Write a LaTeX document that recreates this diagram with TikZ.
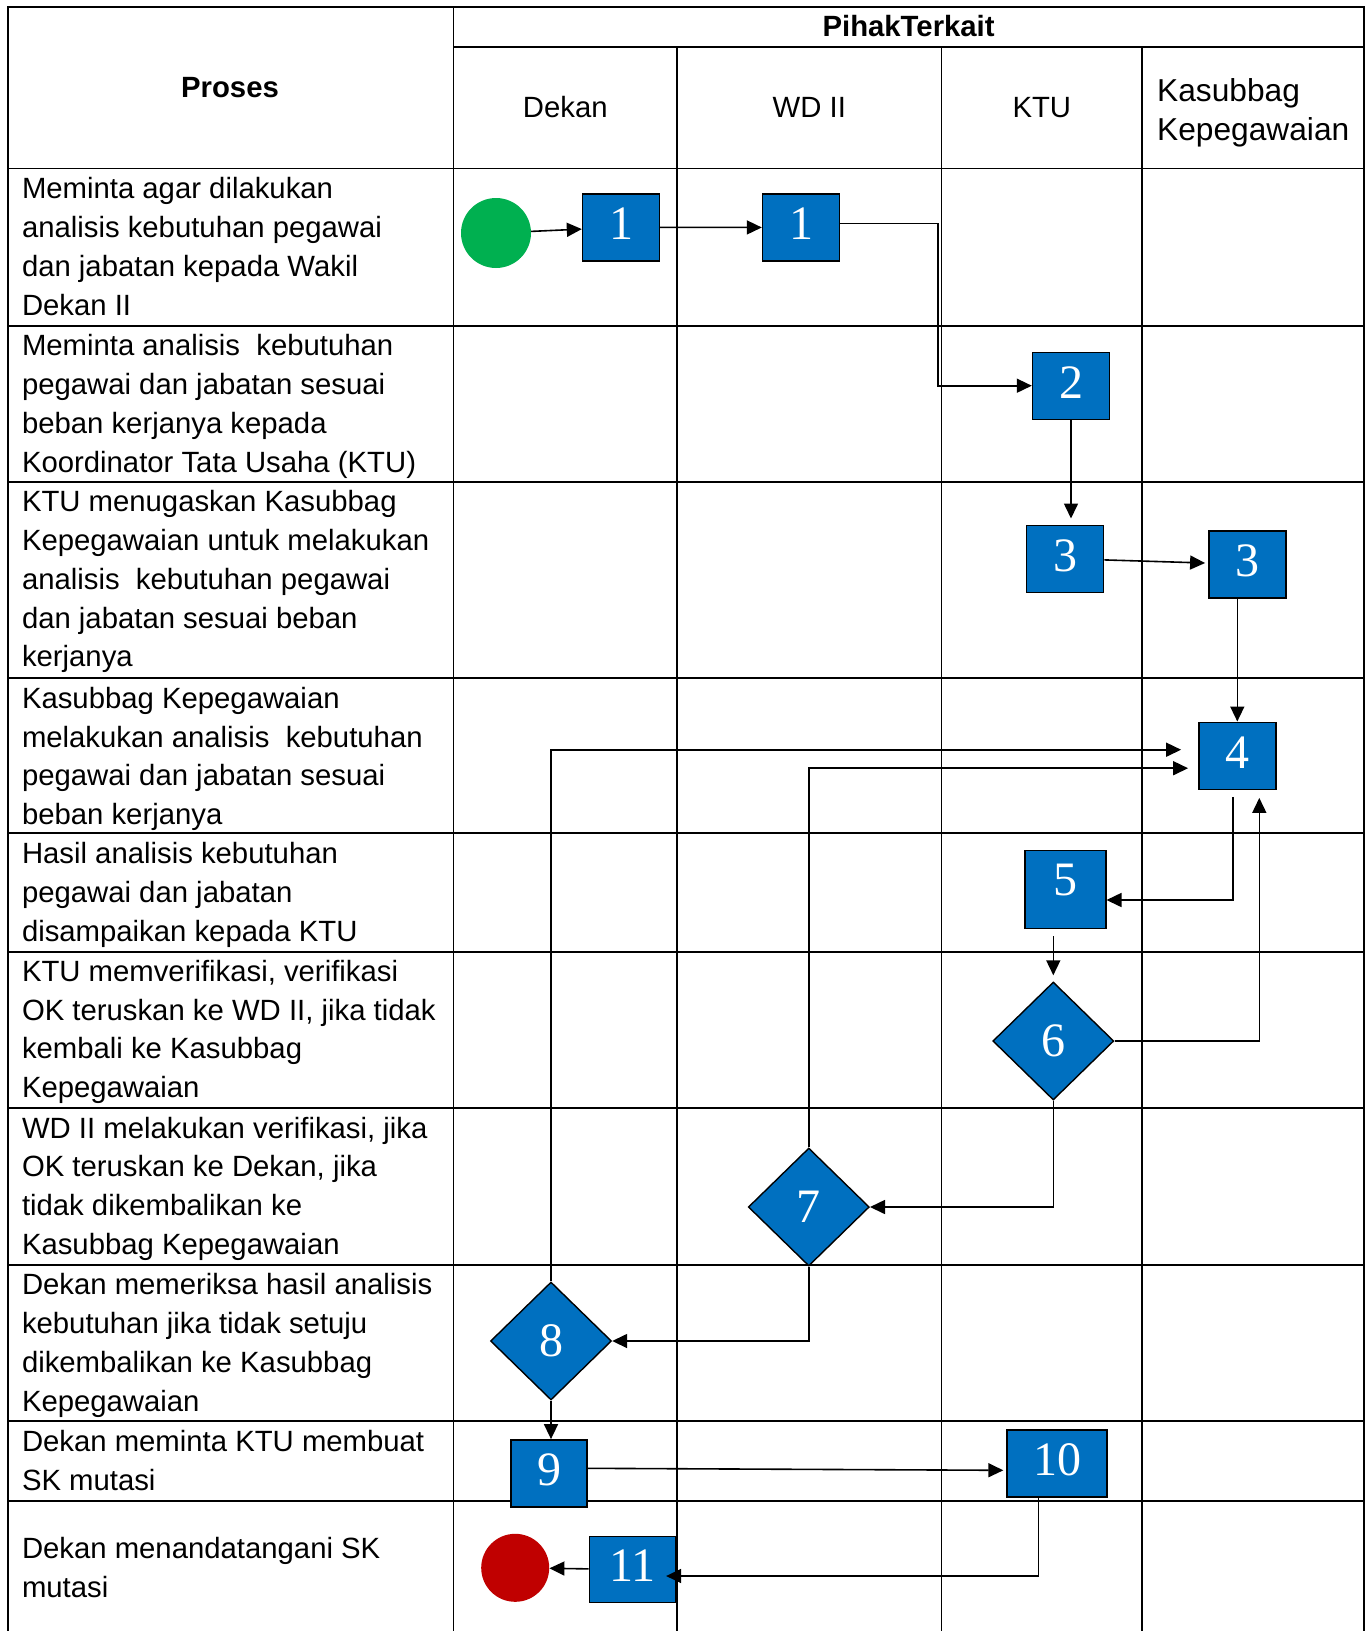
\documentclass[tikz,border=0pt]{standalone}
\usepackage{fontspec}
\setmainfont{Liberation Sans}
\newfontfamily\numfont{Liberation Serif}
\usetikzlibrary{arrows.meta,shapes.geometric,calc}
\definecolor{boxblue}{HTML}{0070C0}
\definecolor{startgreen}{HTML}{00B050}
\definecolor{endred}{HTML}{C00000}
\tikzset{
  gridline/.style={line width=1.8pt},
  proc/.style={draw=black, line width=1.4pt, fill=boxblue, text=white,
    font=\numfont\fontsize{48}{48}\selectfont, inner sep=0pt, text depth=7pt},
  dec/.style={diamond, draw=black, line width=1.4pt, fill=boxblue, text=white,
    font=\numfont\fontsize{48}{48}\selectfont, inner sep=0pt,
    minimum width=121pt, minimum height=118pt},
  arr/.style={-{Triangle[length=15pt,width=14pt]}, line width=1.6pt},
  lbl/.style={font=\fontsize{29.3}{38.8}\selectfont, align=left, anchor=north west, inner sep=0pt},
  hdr/.style={font=\fontsize{29.3}{38.8}\selectfont, anchor=base, inner sep=0pt},
  terminal/.style={circle, draw=none, inner sep=0pt},
}
\begin{document}
\begin{tikzpicture}[x=1pt,y=-1pt]
\useasboundingbox (0,0) rectangle (1371,1631);
\fill[white] (0,0) rectangle (1371,1631);
% table grid
\draw[gridline] (8.3,1631) -- (8.3,7.3) -- (1363.7,7.3) -- (1363.7,1631);
\draw[gridline] (453.5,7.3) -- (453.5,1631);
\draw[gridline] (453.5,46.8) -- (1363.7,46.8);
\foreach \x in {677.2,941.4,1142.1} \draw[gridline] (\x,46.8) -- (\x,1631);
\foreach \y in {168.5,325.6,481.6,678.2,833.2,951.8,1107.8,1264.9,1420.9,1501.0}
  \draw[gridline] (8.3,\y) -- (1363.7,\y);
% headers
\node[hdr,font=\bfseries\fontsize{29.3}{38.8}\selectfont] (hproses) at (230,97.5) {Proses};
\node[hdr,font=\bfseries\fontsize{29.3}{38.8}\selectfont] (hpihak) at (908.6,36.5) {PihakTerkait};
\node[hdr] (hdekan) at (565.3,117.5) {Dekan};
\node[hdr] (hwd) at (809.3,117.5) {WD II};
\node[hdr] (hktu) at (1041.8,117.5) {KTU};
\node[lbl, font=\fontsize{31.7}{38.5}\selectfont] (hkas) at (1157,74.5) {\strut Kasubbag\\Kepegawaian};
% process texts
\node[lbl] (p1) at (21.8,171.3) {\strut Meminta agar dilakukan\\analisis kebutuhan pegawai\\dan jabatan kepada Wakil\\Dekan II};
\node[lbl] (p2) at (21.8,328.4) {\strut Meminta analisis\ \ kebutuhan\\pegawai dan jabatan sesuai\\beban kerjanya kepada\\Koordinator Tata Usaha (KTU)};
\node[lbl] (p3) at (21.8,484.4) {\strut KTU menugaskan Kasubbag\\Kepegawaian untuk melakukan\\analisis\ \ kebutuhan pegawai\\dan jabatan sesuai beban\\kerjanya};
\node[lbl] (p4) at (21.8,681.0) {\strut Kasubbag Kepegawaian\\melakukan analisis\ \ kebutuhan\\pegawai dan jabatan sesuai\\beban kerjanya};
\node[lbl] (p5) at (21.8,836.5) {\strut Hasil analisis kebutuhan\\pegawai dan jabatan\\disampaikan kepada KTU};
\node[lbl] (p6) at (21.8,954.0) {\strut KTU memverifikasi, verifikasi\\OK teruskan ke WD II, jika tidak\\kembali ke Kasubbag\\Kepegawaian};
\node[lbl] (p7) at (21.8,1110.8) {\strut WD II melakukan verifikasi, jika\\OK teruskan ke Dekan, jika\\tidak dikembalikan ke\\Kasubbag Kepegawaian};
\node[lbl] (p8) at (21.8,1267.5) {\strut Dekan memeriksa hasil analisis\\kebutuhan jika tidak setuju\\dikembalikan ke Kasubbag\\Kepegawaian};
\node[lbl] (p9) at (21.8,1424.0) {\strut Dekan meminta KTU membuat\\SK mutasi};
\node[lbl] (p10) at (21.8,1531.3) {\strut Dekan menandatangani SK\\mutasi};
% flow nodes
\node[terminal, fill=startgreen, minimum size=70pt] (start) at (496,233) {};
\node[proc, minimum width=77pt, minimum height=67pt] (d1) at (621,227.3) {1};
\node[proc, minimum width=77pt, minimum height=67pt] (w1) at (801,227.5) {1};
\node[proc, minimum width=77pt, minimum height=67pt] (k2) at (1071,385.7) {2};
\node[proc, minimum width=77pt, minimum height=67pt] (k3) at (1065.2,558.7) {3};
\node[proc, minimum width=77pt, minimum height=67pt] (s3) at (1247.3,564.3) {3};
\node[proc, minimum width=77pt, minimum height=67pt] (s4) at (1237.3,755.7) {4};
\node[proc, minimum width=81pt, minimum height=78pt, text depth=19pt] (k5) at (1065.3,889.5) {5};
\node[dec] (k6) at (1053.3,1041) {6};
\node[dec] (w7) at (808.8,1207) {7};
\node[dec] (d8) at (551,1341) {8};
\node[proc, minimum width=76pt, minimum height=67pt] (d9) at (549,1473.3) {9};
\node[proc, minimum width=100pt, minimum height=67pt] (k10) at (1057,1463.3) {10};
\node[proc, minimum width=86pt, minimum height=66pt] (d11) at (632.4,1569.5) {11};
\node[terminal, fill=endred, minimum size=68pt] (end) at (515.2,1567.8) {};
% connectors
\draw[arr] (start) -- (d1);
\draw[arr] (d1) -- (w1);
\draw[arr] ([yshift=4pt]w1.east) -- ++(97.7,0) |- (k2.west);
\draw[arr, shorten >=6pt] (k2.south) -- (k2.south |- k3.north);
\draw[arr, shorten >=3pt] (k3) -- (s3);
\draw[arr] (s4.north |- s3.south) -- (s4.north);
\draw[arr] (d8.north) |- ([xshift=-17pt,yshift=6pt]s4.west);
\draw[arr] (w7.north) |- ([xshift=-10pt,yshift=-12.5pt]s4.west);
\draw[arr] ([xshift=-4.5pt,yshift=-7pt]s4.south) |- ([yshift=-10.5pt]k5.east);
\draw[arr, shorten >=6pt] ([yshift=-7pt]k6.north |- k5.south) -- (k6.north);
\draw[arr] (k6.east) -| ([xshift=22pt,yshift=-8pt]s4.south);
\draw[arr] (k6.south) |- (w7.east);
\draw[arr] (w7.south) |- (d8.east);
\draw[arr] (d8.south) -- (d8.south |- d9.north);
\draw[arr] ([yshift=5pt]d9.east) -- ([yshift=-7pt,xshift=-3pt]k10.west);
\draw[arr] ([xshift=-18.6pt]k10.south) |- ([xshift=-10pt,yshift=-6.5pt]d11.east);
\draw[arr] (d11) -- (end);
\end{tikzpicture}
\end{document}
